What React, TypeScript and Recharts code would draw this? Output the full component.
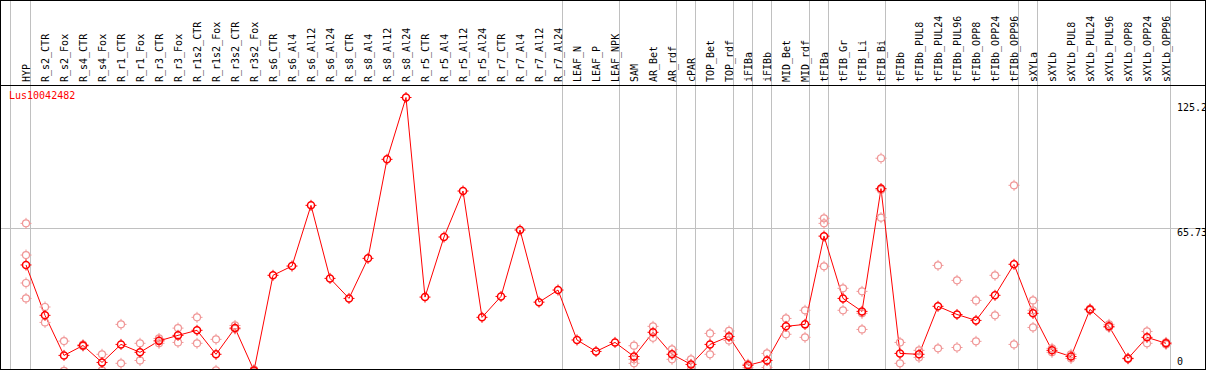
import { ComposedChart, Line, XAxis, YAxis, ReferenceLine } from 'recharts';

const labels = [
  'HYP',
  'R_s2_CTR', 'R_s2_Fox', 'R_s4_CTR', 'R_s4_Fox', 'R_r1_CTR', 'R_r1_Fox', 'R_r3_CTR', 'R_r3_Fox',
  'R_r1s2_CTR', 'R_r1s2_Fox', 'R_r3s2_CTR', 'R_r3s2_Fox',
  'R_s6_CTR', 'R_s6_Al4', 'R_s6_Al12', 'R_s6_Al24', 'R_s8_CTR', 'R_s8_Al4', 'R_s8_Al12', 'R_s8_Al24',
  'R_r5_CTR', 'R_r5_Al4', 'R_r5_Al12', 'R_r5_Al24', 'R_r7_CTR', 'R_r7_Al4', 'R_r7_Al12', 'R_r7_Al24',
  'LEAF_N', 'LEAF_P', 'LEAF_NPK',
  'SAM', 'AR_Bet', 'AR_rdf', 'cPAR', 'TOP_Bet', 'TOP_rdf', 'iFIBa', 'iFIBb', 'MID_Bet', 'MID_rdf',
  'tFIBa', 'tFIB_Gr', 'tFIB_Li', 'tFIB_Bi',
  'tFIBb', 'tFIBb_PUL8', 'tFIBb_PUL24', 'tFIBb_PUL96', 'tFIBb_OPP8', 'tFIBb_OPP24', 'tFIBb_OPP96',
  'sXYLa', 'sXYLb', 'sXYLb_PUL8', 'sXYLb_PUL24', 'sXYLb_PUL96', 'sXYLb_OPP8', 'sXYLb_OPP24', 'sXYLb_OPP96',
];

// mean expression per sample
const means = [
  49.1,
  26.2, 8.0, 12.5, 4.8, 13.0, 9.4, 14.6, 17.1,
  19.4, 8.5, 20.4, 1.1,
  44.4, 48.6, 76.2, 43.0, 33.9, 52.1, 97.1, 125.2,
  34.5, 61.8, 82.7, 25.3, 34.8, 65.0, 32.2, 37.7,
  15.0, 9.8, 13.9,
  7.5, 18.5, 8.5, 3.9, 13.0, 16.6, 3.5, 5.7, 21.2, 22.1,
  62.2, 33.9, 28.0, 83.8,
  8.9, 8.5, 30.3, 26.6, 23.9, 35.3, 49.4,
  27.1, 10.3, 7.5, 28.9, 21.2, 6.6, 16.2, 13.5,
];

// individual replicates (null = none shown)
const rep1 = [
  68.0,
  30.0, 14.5, 12.9, 8.5, 22.1, 13.5, 15.7, 20.4,
  25.3, 15.3, 21.6, 0.5,
  null, null, null, null, null, null, null, null,
  null, null, null, null, null, null, null, null,
  null, null, null,
  12.4, 21.2, 10.7, 6.2, 18.0, 19.1, 2.4, 8.9, 24.8, 28.5,
  70.3, 38.5, 37.1, 97.6,
  13.9, 10.3, 48.9, 42.1, 33.0, 44.4, 85.3,
  33.0, 11.2, 8.5, 29.2, 22.1, 6.4, 18.9, 13.9,
];
const rep2 = [
  53.6,
  23.0, 1.0, 12.2, 1.2, 4.4, 5.7, 13.5, 13.9,
  13.5, 1.2, 20.0, 1.6,
  null, null, null, null, null, null, null, null,
  null, null, null, null, null, null, null, null,
  null, null, null,
  6.2, 16.0, 6.2, 1.4, 8.5, 14.8, 4.0, 2.5, 17.6, 16.2,
  68.0, 28.5, 27.1, 70.6,
  4.4, 7.1, 11.2, 11.6, 14.4, 26.2, 13.0,
  20.7, 9.4, 6.6, 28.6, 20.7, 6.8, 13.5, 13.0,
];
const rep3 = [
  40.9,
  null, null, null, null, null, null, null, null,
  null, null, null, 1.3,
  null, null, null, null, null, null, null, null,
  null, null, null, null, null, null, null, null,
  null, null, null,
  4.4, null, null, null, null, null, null, null, null, null,
  48.5, null, 19.8, 83.2,
  null, null, null, null, null, null, null,
  28.5, null, null, null, null, null, null, null,
];
const rep4 = [
  33.9,
  null, null, null, null, null, null, null, null,
  null, null, null, null,
  null, null, null, null, null, null, null, null,
  null, null, null, null, null, null, null, null,
  null, null, null,
  null, null, null, null, null, null, null, null, null, null,
  null, null, null, null,
  null, null, null, null, null, null, null,
  null, null, null, null, null, null, null, null,
];

// group boundaries: a gray rule drawn just after these sample indices
const groupEnds = [0, 28, 31, 34, 35, 37, 38, 39, 41, 42, 45, 52, 53, 60];
const gridValues = [65.73];
const axisTicks = [0, 65.73, 125.2];
const geneName = 'Lus10042482';

const W = 1206;
const H = 373;
const X0 = 26; // pixel of first sample
const STEP = 19; // pixels per sample
const Y_MAX = 169.06;
const FONT = '"DejaVu Sans Mono", "Liberation Mono", monospace';
const RED = '#ff0000';
const PINK = '#f09696';
const GRAY = '#c0c0c0';

const data = labels.map((name, i) => ({
  i,
  name,
  mean: means[i],
  r1: rep1[i],
  r2: rep2[i],
  r3: rep3[i],
  r4: rep4[i],
}));

function makeDot(color: string, width: number) {
  return (p: any) => {
    const { cx, cy, value, index } = p;
    if (value == null || cx == null || cy == null) return <g key={`e${index}`} />;
    return (
      <g key={`d${index}`}>
        <circle cx={cx} cy={cy} r={3.5} fill="none" stroke={color} strokeWidth={width} />
        <path
          d={`M${cx},${cy - 5.5}v2M${cx},${cy + 3.5}v2M${cx - 5.5},${cy}h2M${cx + 3.5},${cy}h2`}
          stroke={color}
          strokeWidth={1}
        />
      </g>
    );
  };
}

const HeaderTick = (p: any) => {
  const { x, payload } = p;
  return (
    <g>
      <text
        transform={`translate(${x + 4},82) rotate(-90)`}
        fontFamily={FONT}
        fontSize={10}
        fill="#000"
        textAnchor="start"
      >
        {labels[payload.value]}
      </text>
    </g>
  );
};

const tickDy: Record<string, number> = { '0': -8, '65.73': 7.7, '125.2': 13.5 };

const RightTick = (p: any) => {
  const { y, payload } = p;
  return (
    <g>
      <text x={1177} y={y + (tickDy[String(payload.value)] ?? 0)} fontFamily={FONT} fontSize={10} fill="#000">
        {payload.value}
      </text>
    </g>
  );
};

export default function App() {
  const xDomain = [-X0 / STEP, (W - 1 - X0) / STEP];
  const sepOffset = 4.3 / STEP;

  return (
    <div style={{ position: 'relative', width: W, height: 370, overflow: 'hidden', background: '#fff' }}>
      <style>{'body{margin:0}'}</style>
      <ComposedChart width={W} height={H} data={data} margin={{ top: 0, right: 0, bottom: 0, left: 0 }}>
        <XAxis
          dataKey="i"
          type="number"
          orientation="top"
          height={1}
          domain={xDomain}
          allowDataOverflow
          ticks={labels.map((_, i) => i)}
          interval={0}
          tick={HeaderTick}
          tickLine={false}
          axisLine={false}
        />
        <YAxis
          orientation="right"
          width={1}
          type="number"
          domain={[0, Y_MAX]}
          allowDataOverflow
          ticks={axisTicks}
          interval={0}
          tick={RightTick}
          tickLine={false}
          axisLine={false}
        />
        <ReferenceLine x={-0.826} stroke={GRAY} strokeWidth={1} shapeRendering="crispEdges" />
        {groupEnds.map((g) => (
          <ReferenceLine key={g} x={g + sepOffset} stroke={GRAY} strokeWidth={1} shapeRendering="crispEdges" />
        ))}
        {gridValues.map((v) => (
          <ReferenceLine key={v} y={v} stroke={GRAY} strokeWidth={1} shapeRendering="crispEdges" />
        ))}
        {['r1', 'r2', 'r3', 'r4'].map((k) => (
          <Line
            key={k}
            dataKey={k}
            stroke="none"
            dot={makeDot(PINK, 1.2)}
            activeDot={false}
            isAnimationActive={false}
          />
        ))}
        <Line
          dataKey="mean"
          stroke={RED}
          strokeWidth={1}
          dot={makeDot(RED, 1.5)}
          activeDot={false}
          isAnimationActive={false}
        />
      </ComposedChart>
      <div
        style={{
          position: 'absolute',
          left: 9,
          top: 90,
          color: RED,
          fontFamily: FONT,
          fontSize: 10,
          lineHeight: '12px',
        }}
      >
        {geneName}
      </div>
      <div style={{ position: 'absolute', left: 0, top: 85, width: W, height: 1, background: '#000' }} />
      <div
        style={{
          position: 'absolute',
          left: 0,
          top: 0,
          width: W,
          height: 370,
          border: '1px solid #000',
          boxSizing: 'border-box',
          pointerEvents: 'none',
        }}
      />
    </div>
  );
}
